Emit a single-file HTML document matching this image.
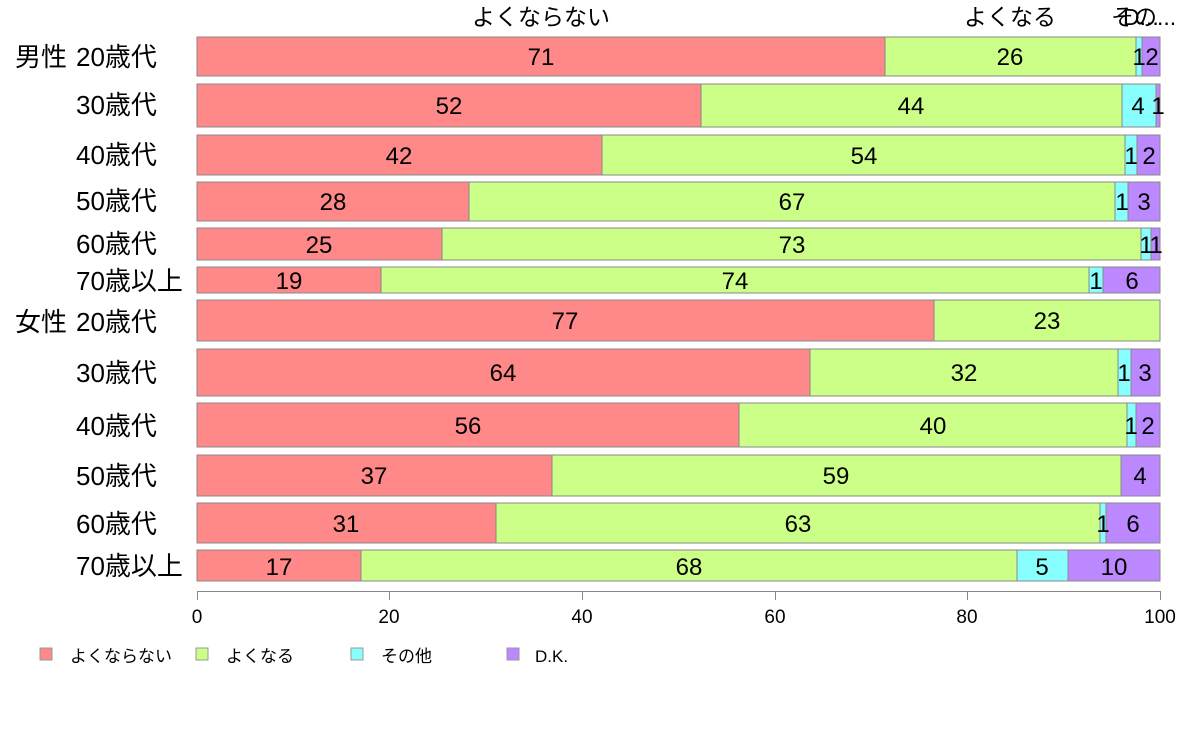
<!DOCTYPE html>
<html><head><meta charset="utf-8"><style>
html,body{margin:0;padding:0;background:#fff;}
svg text{font-family:"Liberation Sans","Noto Sans CJK JP",sans-serif;fill:#000;}
</style></head><body>
<svg width="1188" height="736" xmlns="http://www.w3.org/2000/svg">
<g font-size="23">
<text x="541" y="25" text-anchor="middle">よくならない</text>
<text x="1010" y="25" text-anchor="middle">よくなる</text>
<text x="1111" y="25">その...</text>
<text x="1123" y="25">D...</text>
</g>
<g stroke="#888" stroke-width="1">
<rect x="197" y="37" width="688" height="39" fill="#FF8888"/><rect x="885" y="37" width="251" height="39" fill="#CCFF88"/><rect x="1136" y="37" width="6" height="39" fill="#88FFFF"/><rect x="1142" y="37" width="18" height="39" fill="#BB88FF"/>
<rect x="197" y="84" width="504" height="43" fill="#FF8888"/><rect x="701" y="84" width="421" height="43" fill="#CCFF88"/><rect x="1122" y="84" width="34" height="43" fill="#88FFFF"/><rect x="1156" y="84" width="4" height="43" fill="#BB88FF"/>
<rect x="197" y="135" width="405" height="40" fill="#FF8888"/><rect x="602" y="135" width="523" height="40" fill="#CCFF88"/><rect x="1125" y="135" width="12" height="40" fill="#88FFFF"/><rect x="1137" y="135" width="23" height="40" fill="#BB88FF"/>
<rect x="197" y="182" width="272" height="39" fill="#FF8888"/><rect x="469" y="182" width="646" height="39" fill="#CCFF88"/><rect x="1115" y="182" width="13" height="39" fill="#88FFFF"/><rect x="1128" y="182" width="32" height="39" fill="#BB88FF"/>
<rect x="197" y="228" width="245" height="32" fill="#FF8888"/><rect x="442" y="228" width="699" height="32" fill="#CCFF88"/><rect x="1141" y="228" width="10" height="32" fill="#88FFFF"/><rect x="1151" y="228" width="9" height="32" fill="#BB88FF"/>
<rect x="197" y="267" width="184" height="26" fill="#FF8888"/><rect x="381" y="267" width="708" height="26" fill="#CCFF88"/><rect x="1089" y="267" width="14" height="26" fill="#88FFFF"/><rect x="1103" y="267" width="57" height="26" fill="#BB88FF"/>
<rect x="197" y="300" width="737" height="41" fill="#FF8888"/><rect x="934" y="300" width="226" height="41" fill="#CCFF88"/>
<rect x="197" y="349" width="613" height="47" fill="#FF8888"/><rect x="810" y="349" width="308" height="47" fill="#CCFF88"/><rect x="1118" y="349" width="13" height="47" fill="#88FFFF"/><rect x="1131" y="349" width="29" height="47" fill="#BB88FF"/>
<rect x="197" y="403" width="542" height="44" fill="#FF8888"/><rect x="739" y="403" width="388" height="44" fill="#CCFF88"/><rect x="1127" y="403" width="9" height="44" fill="#88FFFF"/><rect x="1136" y="403" width="24" height="44" fill="#BB88FF"/>
<rect x="197" y="455" width="355" height="41" fill="#FF8888"/><rect x="552" y="455" width="569" height="41" fill="#CCFF88"/><rect x="1121" y="455" width="39" height="41" fill="#BB88FF"/>
<rect x="197" y="503" width="299" height="40" fill="#FF8888"/><rect x="496" y="503" width="604" height="40" fill="#CCFF88"/><rect x="1100" y="503" width="6" height="40" fill="#88FFFF"/><rect x="1106" y="503" width="54" height="40" fill="#BB88FF"/>
<rect x="197" y="550" width="164" height="31" fill="#FF8888"/><rect x="361" y="550" width="656" height="31" fill="#CCFF88"/><rect x="1017" y="550" width="51" height="31" fill="#88FFFF"/><rect x="1068" y="550" width="92" height="31" fill="#BB88FF"/>
</g>
<g font-size="24" text-anchor="middle">
<text x="541" y="65">71</text><text x="1010" y="65">26</text><text x="1139" y="65">1</text><text x="1152" y="65">2</text>
<text x="449" y="114">52</text><text x="911" y="114">44</text><text x="1138" y="114">4</text><text x="1158" y="114">1</text>
<text x="399" y="164">42</text><text x="864" y="164">54</text><text x="1131" y="164">1</text><text x="1149" y="164">2</text>
<text x="333" y="210">28</text><text x="792" y="210">67</text><text x="1122" y="210">1</text><text x="1144" y="210">3</text>
<text x="319" y="253">25</text><text x="792" y="253">73</text><text x="1146" y="253">1</text><text x="1156" y="253">1</text>
<text x="289" y="289">19</text><text x="735" y="289">74</text><text x="1096" y="289">1</text><text x="1132" y="289">6</text>
<text x="565" y="329">77</text><text x="1047" y="329">23</text>
<text x="503" y="381">64</text><text x="964" y="381">32</text><text x="1124" y="381">1</text><text x="1145" y="381">3</text>
<text x="468" y="434">56</text><text x="933" y="434">40</text><text x="1131" y="434">1</text><text x="1148" y="434">2</text>
<text x="374" y="484">37</text><text x="836" y="484">59</text><text x="1140" y="484">4</text>
<text x="346" y="532">31</text><text x="798" y="532">63</text><text x="1103" y="532">1</text><text x="1133" y="532">6</text>
<text x="279" y="575">17</text><text x="689" y="575">68</text><text x="1042" y="575">5</text><text x="1114" y="575">10</text>
</g>
<g font-size="26">
<text x="15" y="66">男性</text>
<text x="76" y="66">20歳代</text>
<text x="76" y="114">30歳代</text>
<text x="76" y="164">40歳代</text>
<text x="76" y="210">50歳代</text>
<text x="76" y="253">60歳代</text>
<text x="76" y="290">70歳以上</text>
<text x="15" y="331">女性</text>
<text x="76" y="331">20歳代</text>
<text x="76" y="382">30歳代</text>
<text x="76" y="435">40歳代</text>
<text x="76" y="485">50歳代</text>
<text x="76" y="533">60歳代</text>
<text x="76" y="575">70歳以上</text>
</g>
<g stroke="#888" stroke-width="1">
<line x1="197" y1="591.5" x2="1160" y2="591.5"/>
<line x1="197.5" y1="591" x2="197.5" y2="600"/>
<line x1="389.5" y1="591" x2="389.5" y2="600"/>
<line x1="582.5" y1="591" x2="582.5" y2="600"/>
<line x1="775.5" y1="591" x2="775.5" y2="600"/>
<line x1="967.5" y1="591" x2="967.5" y2="600"/>
<line x1="1160.5" y1="591" x2="1160.5" y2="600"/>
</g>
<g font-size="19" text-anchor="middle">
<text x="197" y="623">0</text><text x="389" y="623">20</text><text x="582" y="623">40</text><text x="775" y="623">60</text><text x="967" y="623">80</text><text x="1160" y="623">100</text>
</g>
<g stroke="#999" stroke-width="1">
<rect x="40" y="648" width="12" height="12" fill="#FF8888"/>
<rect x="196" y="648" width="12" height="12" fill="#CCFF88"/>
<rect x="351" y="648" width="12" height="12" fill="#88FFFF"/>
<rect x="507" y="648" width="12" height="12" fill="#BB88FF"/>
</g>
<g font-size="17">
<text x="70" y="662">よくならない</text>
<text x="226" y="662">よくなる</text>
<text x="381" y="662">その他</text>
<text x="535" y="662">D.K.</text>
</g>
</svg>
</body></html>
